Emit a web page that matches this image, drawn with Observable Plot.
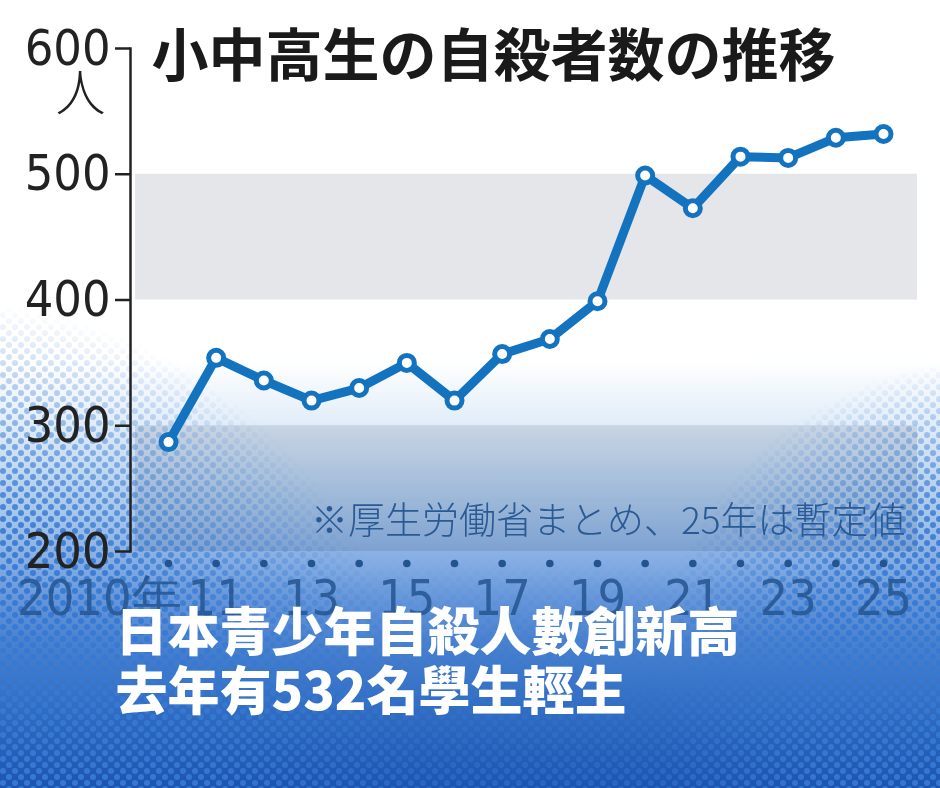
<!DOCTYPE html>
<html>
<head>
<meta charset="utf-8">
<script src="https://cdn.jsdelivr.net/npm/d3@7"></script>
<script src="https://cdn.jsdelivr.net/npm/@observablehq/plot@0.6"></script>
<style>
  html, body { margin: 0; padding: 0; background: #ffffff; }
  #chart svg { display: block; }
  g[aria-label="headline"] text { filter: drop-shadow(2px 3px 2px rgba(5, 25, 70, 0.75)); }
</style>
</head>
<body>
<div id="chart"></div>
<script>
// ---- data ----
const years = [2010, 2011, 2012, 2013, 2014, 2015, 2016, 2017, 2018, 2019, 2020, 2021, 2022, 2023, 2024, 2025];
const students = [287, 354, 336, 320, 330, 350, 320, 357, 369, 399, 499, 473, 514, 513, 529, 532];
const yTicks = [200, 300, 400, 500, 600];
const bands = [{lo: 400, hi: 500}, {lo: 200, hi: 300}];
const labelYears = [2011, 2013, 2015, 2017, 2019, 2021, 2023, 2025];
const firstLabel = ["2010年"];
const title = ["小中高生の自殺者数の推移"];
const unit = ["人"];
const note = ["※厚生労働省まとめ、25年は暫定値"];
const headline1 = ["日本青少年自殺人數創新高"];
const headline2 = ["去年有532名學生輕生"];

const data = years.map((y, i) => ({year: y, value: students[i]}));
const numFont = "'Liberation Sans Narrow', 'DejaVu Sans Condensed', 'Roboto', sans-serif";
const jpFont = "'Noto Sans CJK JP', 'Noto Sans', sans-serif";
const tcFont = "'Noto Sans CJK TC', 'Noto Sans CJK JP', sans-serif";

// decorative background: white-to-blue gradient
function backdrop(index, scales, values, dims) {
  const g = d3.create("svg:g");
  const defs = g.append("defs");
  const lg = defs.append("linearGradient").attr("id", "bgGrad")
    .attr("gradientUnits", "userSpaceOnUse").attr("x1", 0).attr("y1", 0).attr("x2", 0).attr("y2", dims.height);
  [[0, "#ffffff"], [360, "#ffffff"], [420, "#e3eef9"], [470, "#c2d9f1"], [520, "#a2c3ea"], [560, "#86aee3"],
   [600, "#6596da"], [640, "#4a82d0"], [700, "#336fc4"], [788, "#1b55b0"]]
    .forEach(([o, c]) => lg.append("stop").attr("offset", o / dims.height).attr("stop-color", c));
  g.append("rect").attr("width", dims.width).attr("height", dims.height).attr("fill", "url(#bgGrad)");
  return g.node();
}

// decorative halftone dots
function halftone(index, scales, values, dims) {
  const g = d3.create("svg:g");
  const defs = g.append("defs");
  const pat = defs.append("pattern").attr("id", "dotPat").attr("patternUnits", "userSpaceOnUse")
    .attr("width", 12).attr("height", 12);
  pat.append("circle").attr("cx", 3).attr("cy", 3).attr("r", 3).attr("fill", "#3679d3");
  pat.append("circle").attr("cx", 9).attr("cy", 9).attr("r", 3).attr("fill", "#3679d3");
  const rl = defs.append("radialGradient").attr("id", "mL").attr("gradientUnits", "userSpaceOnUse")
    .attr("cx", -60).attr("cy", 780).attr("r", 480);
  rl.append("stop").attr("offset", 0).attr("stop-color", "#fff").attr("stop-opacity", 1);
  rl.append("stop").attr("offset", 0.55).attr("stop-color", "#fff").attr("stop-opacity", 0.9);
  rl.append("stop").attr("offset", 1).attr("stop-color", "#fff").attr("stop-opacity", 0);
  const rr = defs.append("radialGradient").attr("id", "mR").attr("gradientUnits", "userSpaceOnUse")
    .attr("cx", 990).attr("cy", 700).attr("r", 340);
  rr.append("stop").attr("offset", 0).attr("stop-color", "#fff").attr("stop-opacity", 1);
  rr.append("stop").attr("offset", 0.55).attr("stop-color", "#fff").attr("stop-opacity", 0.85);
  rr.append("stop").attr("offset", 1).attr("stop-color", "#fff").attr("stop-opacity", 0);
  const lb = defs.append("linearGradient").attr("id", "mB").attr("gradientUnits", "userSpaceOnUse")
    .attr("x1", 0).attr("y1", 560).attr("x2", 0).attr("y2", dims.height);
  lb.append("stop").attr("offset", 0).attr("stop-color", "#fff").attr("stop-opacity", 0);
  lb.append("stop").attr("offset", 1).attr("stop-color", "#fff").attr("stop-opacity", 0.5);
  const mask = defs.append("mask").attr("id", "dotMask");
  ["mL", "mR", "mB"].forEach(id => mask.append("rect").attr("width", dims.width).attr("height", dims.height).attr("fill", `url(#${id})`));
  g.append("rect").attr("width", dims.width).attr("height", dims.height)
    .attr("fill", "url(#dotPat)").attr("mask", "url(#dotMask)");
  return g.node();
}

const chart = Plot.plot({
  width: 940,
  height: 788,
  marginLeft: 130,
  marginRight: 23,
  marginTop: 48,
  marginBottom: 237,
  x: {domain: [2010, 2025], range: [168, 883], axis: null},
  y: {domain: [200, 600], axis: null},
  style: {background: "transparent", color: "#222", overflow: "visible"},
  marks: [
    backdrop,
    Plot.rect(bands, {y1: "lo", y2: "hi", fill: "#e4e6ea", insetLeft: 5, mixBlendMode: "multiply"}),
    halftone,
    Plot.axisY({ticks: yTicks, tickSize: 15, tickPadding: 5, strokeWidth: 2.5, stroke: "#222",
      fontSize: 50, fontWeight: 300, fontFamily: numFont, fill: "#222"}),
    Plot.frame({anchor: "left", strokeWidth: 2.5, stroke: "#222"}),
    Plot.text(unit, {frameAnchor: "top-left", dx: -50, dy: 46, fontSize: 50, fontFamily: jpFont,
      fontWeight: 300, fill: "#222", textAnchor: "middle", lineAnchor: "middle"}),
    Plot.text(title, {frameAnchor: "top-left", dx: 21, dy: 9, fontSize: 57, fontFamily: jpFont,
      fontWeight: 700, fill: "#1a1a1a", textAnchor: "start", lineAnchor: "middle"}),
    Plot.text(note, {frameAnchor: "bottom-right", dx: -12, dy: -29, fontSize: 37, fontFamily: jpFont,
      fontWeight: 300, fill: "#2a5a94", textAnchor: "end", lineAnchor: "middle"}),
    Plot.dot(years, {x: d => d, frameAnchor: "bottom", dy: 12, r: 3.8, fill: "#23548f"}),
    Plot.text(labelYears, {x: d => d, text: d => String(d % 100), frameAnchor: "bottom", dy: 47,
      fontSize: 50, fontWeight: 300, fontFamily: numFont, fill: "#24558f", fillOpacity: 0.85, lineAnchor: "middle"}),
    Plot.text(firstLabel, {x: () => 2010, frameAnchor: "bottom", dy: 47, dx: 13, textAnchor: "end",
      fontSize: 50, fontWeight: 300, fontFamily: numFont, fill: "#24558f", fillOpacity: 0.85, lineAnchor: "middle"}),
    Plot.line(data, {x: "year", y: "value", stroke: "#1473bf", strokeWidth: 9, strokeLinejoin: "round"}),
    Plot.dot(data, {x: "year", y: "value", r: 7.5, fill: "white", stroke: "#1473bf", strokeWidth: 5}),
    Plot.text(headline1, {frameAnchor: "bottom-left", dx: -15, dy: 83, textAnchor: "start",
      lineAnchor: "middle", fontSize: 52, fontWeight: 900, fontFamily: tcFont, fill: "white",
      ariaLabel: "headline"}),
    Plot.text(headline2, {frameAnchor: "bottom-left", dx: -15, dy: 142, textAnchor: "start",
      lineAnchor: "middle", fontSize: 52, fontWeight: 900, fontFamily: tcFont, fill: "white",
      ariaLabel: "headline"})
  ]
});
document.getElementById("chart").appendChild(chart);
</script>
</body>
</html>
